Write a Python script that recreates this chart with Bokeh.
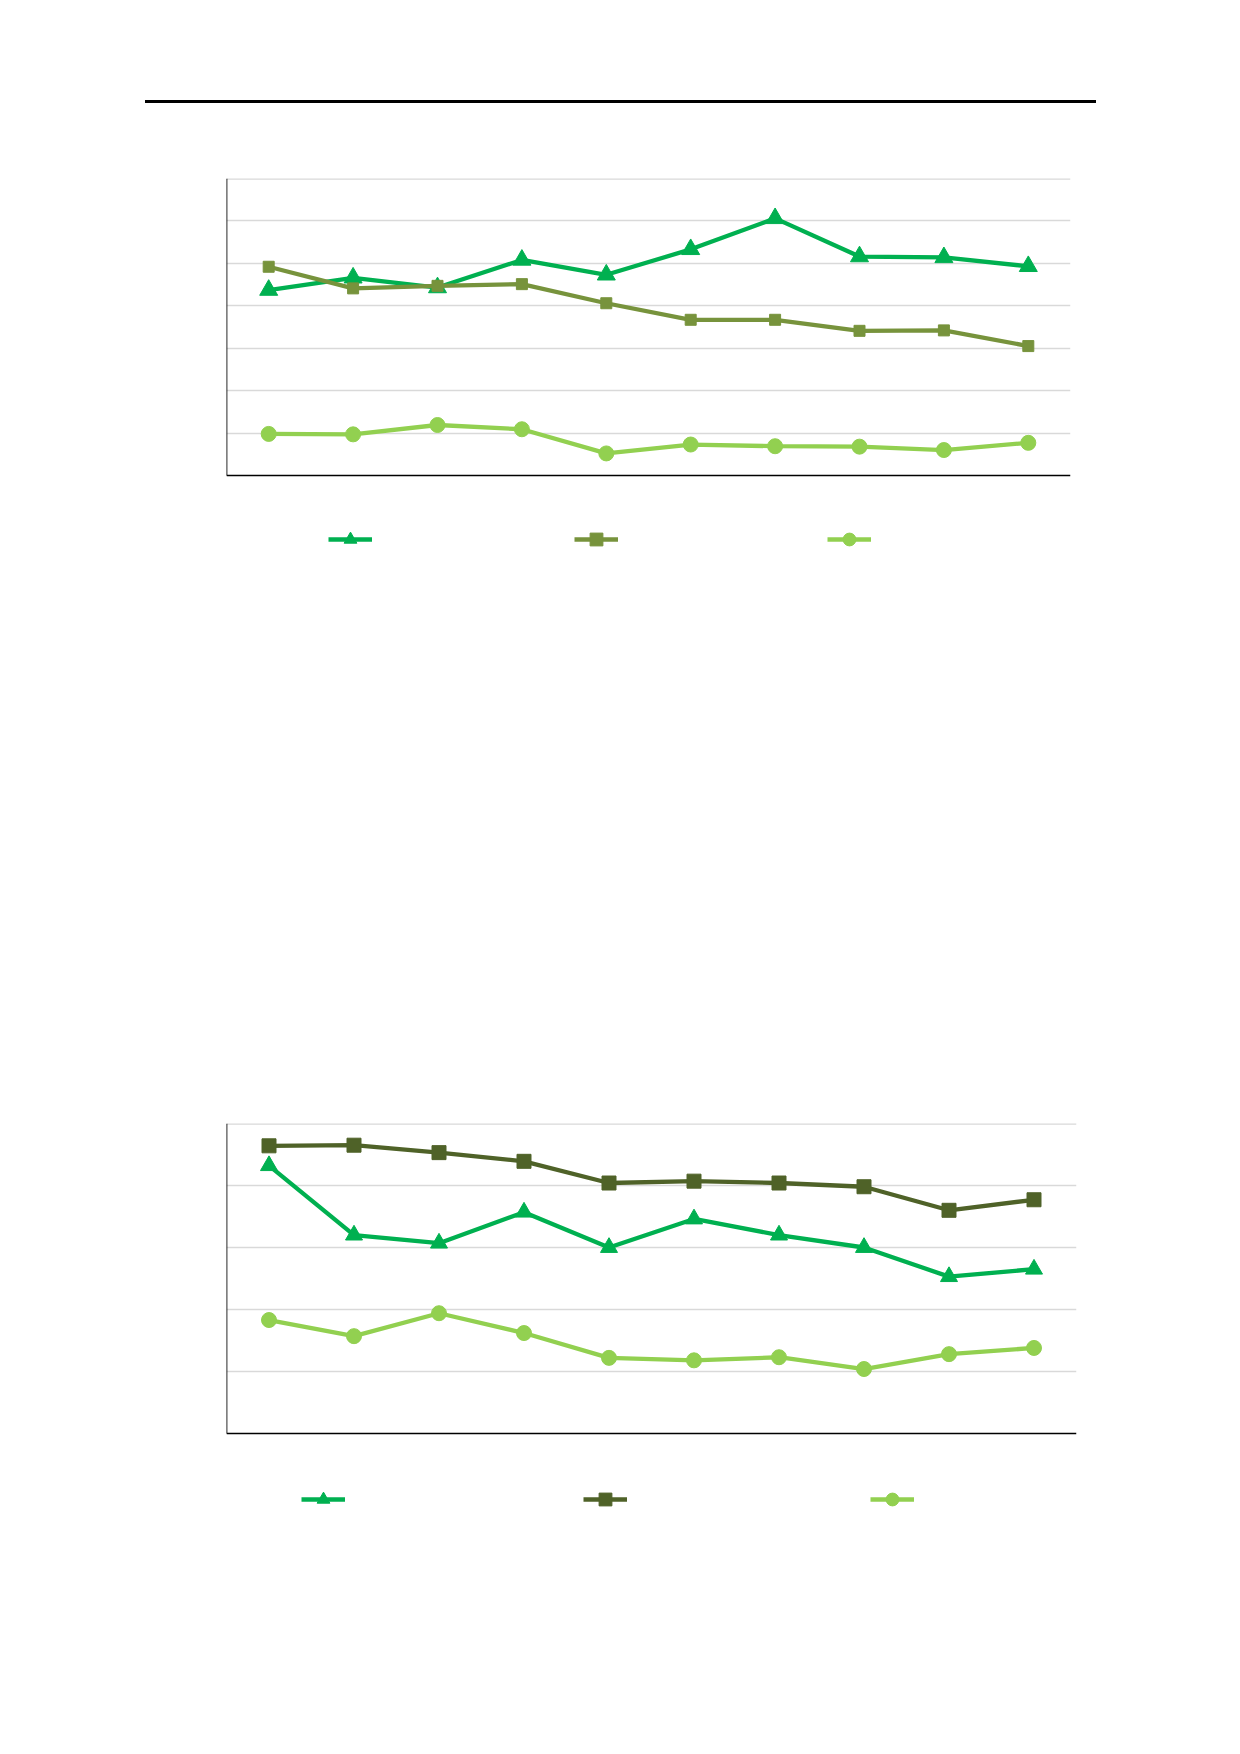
from bokeh.plotting import figure
from bokeh.models import (Range1d, FactorRange, Span, Legend, LegendItem, FixedTicker,
                          ColumnDataSource, Div, BoxAnnotation)
from bokeh.layouts import column
from bokeh.embed import file_html
from bokeh.resources import INLINE

categories = ["1", "2", "3", "4", "5", "6", "7", "8", "9", "10"]

c1_triangle = [4.37, 4.66, 4.43, 5.08, 4.73, 5.33, 6.06, 5.16, 5.14, 4.93]
c1_square = [4.92, 4.41, 4.47, 4.51, 4.06, 3.67, 3.67, 3.41, 3.42, 3.05]
c1_circle = [0.98, 0.97, 1.19, 1.09, 0.52, 0.73, 0.69, 0.68, 0.60, 0.77]
c1_ymax = 7

c2_triangle = [4.32, 3.20, 3.07, 3.57, 3.00, 3.46, 3.20, 3.00, 2.53, 2.65]
c2_square = [4.64, 4.65, 4.53, 4.39, 4.04, 4.07, 4.04, 3.98, 3.60, 3.77]
c2_circle = [1.83, 1.57, 1.94, 1.62, 1.22, 1.18, 1.23, 1.04, 1.28, 1.38]
c2_ymax = 5

LEFT = 226
RIGHT = 164
GRID = "#D9D9D9"


def chart(series, ymax, top, plot_h, extra_h, bottom, frame_w, legend_x, legend_y, sizes):
    frame_h = plot_h + extra_h
    lo = ymax * extra_h / plot_h
    p = figure(width=LEFT + frame_w + RIGHT, height=top + frame_h + bottom, output_backend="svg",
               toolbar_location=None, title=None,
               x_range=FactorRange(factors=categories, range_padding=0),
               y_range=Range1d(-lo, ymax),
               min_border_left=LEFT, min_border_right=RIGHT,
               min_border_top=top, min_border_bottom=bottom)
    p.xaxis.visible = False
    p.yaxis.visible = False
    p.xgrid.visible = False
    p.ygrid.ticker = FixedTicker(ticks=list(range(1, ymax)))
    p.ygrid.grid_line_color = GRID
    p.ygrid.grid_line_width = 1.3
    p.outline_line_color = None
    p.add_layout(Span(location=ymax, dimension="width", line_color=GRID, line_width=2.6))

    items = []
    for (vals, color, marker), size in zip(series, sizes):
        src = ColumnDataSource(dict(x=categories, y=vals))
        ln = p.line("x", "y", source=src, line_color=color, line_width=4.3)
        sc = p.scatter("x", "y", source=src, marker=marker, size=size,
                       fill_color=color, line_color=color)
        items.append([ln, sc])

    p.add_layout(Span(location=0, dimension="width", line_color="#000000", line_width=1.7))
    p.add_layout(BoxAnnotation(left=0, right=0, bottom=0, top=ymax, fill_alpha=0,
                               line_color="#000000", line_alpha=1.0, line_width=1.7))

    for rends, lx in zip(items, legend_x):
        lg = Legend(items=[LegendItem(label=" ", renderers=rends)],
                    location=(lx, legend_y), padding=0, margin=0, spacing=0,
                    glyph_width=44, glyph_height=32, label_width=4, label_height=32,
                    label_standoff=0, border_line_color=None, background_fill_alpha=0,
                    label_text_font_size="10px")
        p.add_layout(lg, "center")
    return p


header = Div(text="", width=951, height=3, margin=(100, 0, 0, 145),
             styles={"background-color": "#000000"})

p1 = chart([(c1_triangle, "#00B050", "triangle"),
            (c1_square, "#77933C", "square"),
            (c1_circle, "#92D050", "circle")],
           c1_ymax, top=75, plot_h=297, extra_h=85, bottom=40, frame_w=844,
           legend_x=[102, 348, 601], legend_y=4.7, sizes=[18, 11, 15])
p2 = chart([(c2_triangle, "#00B050", "triangle"),
            (c2_square, "#4F6228", "square"),
            (c2_circle, "#92D050", "circle")],
           c2_ymax, top=523, plot_h=310, extra_h=87, bottom=40, frame_w=850,
           legend_x=[75, 357, 644], legend_y=5, sizes=[17, 14, 15])

page = column(header, p1, p2, spacing=0)
open("out.html", "w").write(file_html(page, INLINE))
